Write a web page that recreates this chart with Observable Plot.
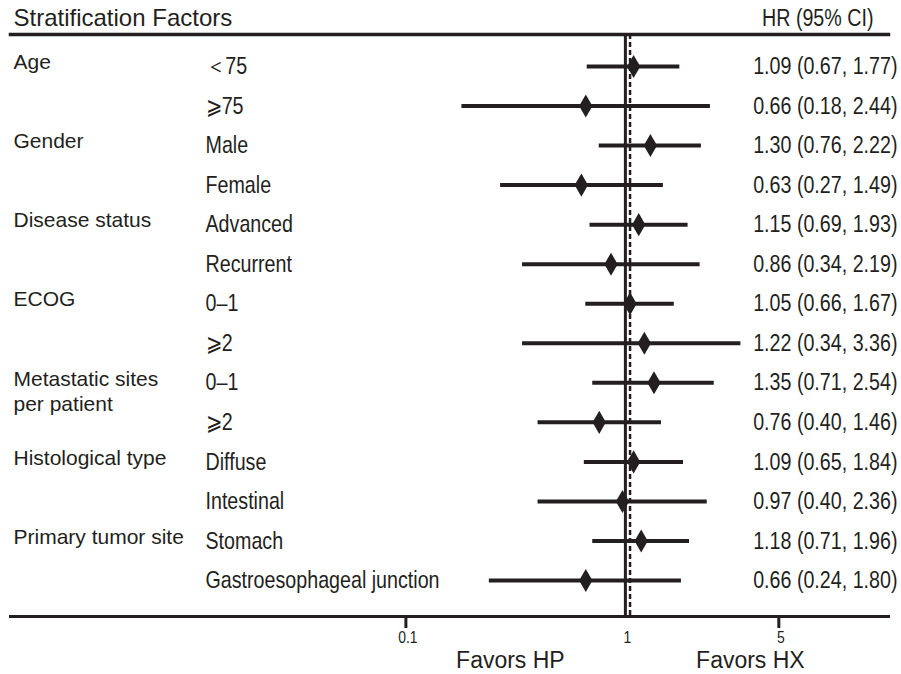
<!DOCTYPE html>
<html><head><meta charset="utf-8">
<script src="https://cdn.jsdelivr.net/npm/d3@7"></script>
<script src="https://cdn.jsdelivr.net/npm/@observablehq/plot@0.6"></script>
<style>body{margin:0;background:#fff} #chart svg{display:block}</style>
</head><body><div id="chart"></div>
<script>
// ---- data ----
const categories = ["Age", "Gender", "Disease status", "ECOG", "Metastatic sites\nper patient", "Histological type", "Primary tumor site"];
const categoryFirstRow = [0, 2, 4, 6, 8, 10, 12];
const subgroups = ["＜75", "⩾75", "Male", "Female", "Advanced", "Recurrent", "0–1", "⩾2", "0–1", "⩾2", "Diffuse", "Intestinal", "Stomach", "Gastroesophageal junction"];
const hr     = [1.09, 0.66, 1.30, 0.63, 1.15, 0.86, 1.05, 1.22, 1.35, 0.76, 1.09, 0.97, 1.18, 0.66];
const ciLow  = [0.67, 0.18, 0.76, 0.27, 0.69, 0.34, 0.66, 0.34, 0.71, 0.40, 0.65, 0.40, 0.71, 0.24];
const ciHigh = [1.77, 2.44, 2.22, 1.49, 1.93, 2.19, 1.67, 3.36, 2.54, 1.46, 1.84, 2.36, 1.96, 1.80];
const overallHR = 1.05;
const nullHR = 1;
const tickValues = [0.1, 1, 5];
const tickMarks = [0.1, 5];
const headers = ["Stratification Factors", "HR (95% CI)"];
const favorLabels = ["Favors HP", "Favors HX"];

// ---- build ----
const rows = subgroups.map((s, i) => ({
  i, sub: s, hr: hr[i], lo: ciLow[i], hi: ciHigh[i],
  label: `${hr[i].toFixed(2)} (${ciLow[i].toFixed(2)}, ${ciHigh[i].toFixed(2)})`
}));
const cats = categories.map((c, k) => ({c, i: categoryFirstRow[k]}));

const ink = "#231f20";
const regular = '"Liberation Sans", Arial, Helvetica, sans-serif';

const chart = Plot.plot({
  width: 901, height: 674,
  marginLeft: 10, marginRight: 13, marginTop: 34, marginBottom: 58,
  style: {fontFamily: regular, color: ink, background: "#fff"},
  x: {type: "log", domain: [0.00158, 15.8], label: null, axis: null},
  y: {type: "point", domain: d3.range(subgroups.length), range: [66, 580], padding: 0, round: false, axis: null},
  marks: [
    Plot.frame({anchor: "top", stroke: ink, strokeWidth: 3.5}),
    Plot.frame({anchor: "bottom", stroke: ink, strokeWidth: 3}),
    Plot.ruleX([nullHR], {stroke: ink, strokeWidth: 3}),
    Plot.ruleX([overallHR], {stroke: ink, strokeWidth: 2.5, strokeDasharray: "5,3"}),
    Plot.ruleY(rows, {y: "i", x1: "lo", x2: "hi", stroke: ink, strokeWidth: 4}),
    Plot.dot(rows, {x: "hr", y: "i", symbol: "diamond", r: 7, fill: ink, stroke: null}),
    // x axis: tick marks below the frame and tick labels
    Plot.ruleX(tickMarks, {x: d => d, insetTop: 582, insetBottom: -12, stroke: ink, strokeWidth: 3}),
    Plot.text(tickValues, {x: d => d, text: d => String(d), frameAnchor: "bottom", lineAnchor: "middle", dy: 21, dx: 2, fontSize: 17, fill: ink, className: "narrow"}),
    Plot.text(cats, {y: "i", text: "c", frameAnchor: "left", dx: 3, dy: -15, textAnchor: "start", lineAnchor: "top", lineHeight: 1.19, fontSize: 21, fill: ink}),
    Plot.text(rows, {y: "i", text: "sub", frameAnchor: "left", dx: 195, textAnchor: "start", fontSize: 24, fill: ink, className: "narrow"}),
    Plot.text(rows, {y: "i", text: "label", frameAnchor: "right", dx: 9, textAnchor: "end", fontSize: 24, fill: ink, className: "narrow"}),
    Plot.text([headers[0]], {frameAnchor: "top-left", dx: 3, dy: -16, lineAnchor: "middle", textAnchor: "start", fontSize: 24, fill: ink}),
    Plot.text([headers[1]], {frameAnchor: "top-right", dx: -15, dy: -16, lineAnchor: "middle", textAnchor: "end", fontSize: 24, fill: ink, className: "narrow"}),
    Plot.text([favorLabels[0]], {x: () => nullHR, frameAnchor: "bottom", dx: -115, dy: 44, lineAnchor: "middle", fontSize: 23, fill: ink}),
    Plot.text([favorLabels[1]], {x: () => nullHR, frameAnchor: "bottom", dx: 125, dy: 44, lineAnchor: "middle", fontSize: 23, fill: ink})
  ]
});
document.getElementById("chart").append(chart);
// condensed look (no narrow font installed): scale glyphs horizontally about each text's anchor
d3.select(chart).selectAll(".narrow text").each(function () {
  const t = this.getAttribute("transform") || "";
  this.setAttribute("transform", `${t} scale(0.82,1)`);
});
</script>
</body></html>
